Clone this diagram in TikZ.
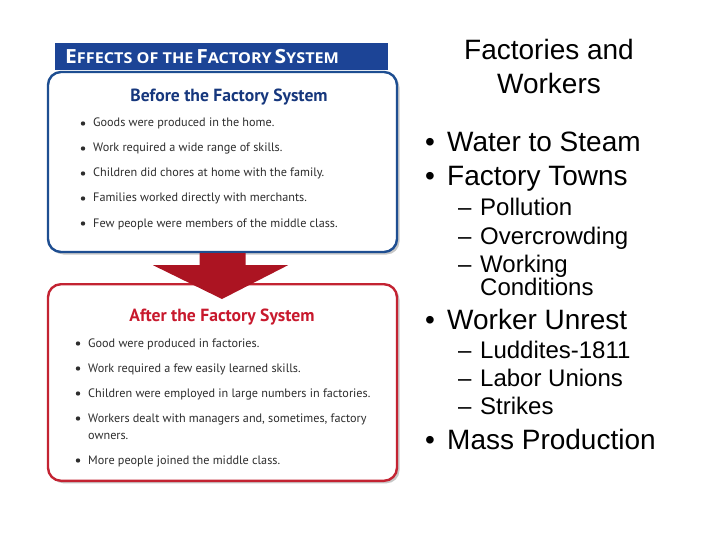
\documentclass[tikz,border=0pt]{standalone}
\usepackage{fontspec}
\usepackage{graphicx}
\setmainfont{Liberation Sans}
\newfontfamily\boxfont{PT Sans}
\newfontfamily\headfont{Open Sans}
\usetikzlibrary{calc,shadows}

\definecolor{hdrblue}{RGB}{28,68,150}
\definecolor{boxblue}{RGB}{30,78,145}
\definecolor{txtblue}{RGB}{22,55,125}
\definecolor{boxred}{RGB}{195,35,50}
\definecolor{arrred}{RGB}{172,20,34}
\definecolor{txtred}{RGB}{200,25,45}
\definecolor{itemgray}{RGB}{45,45,45}

\newcommand\capsc[2]{{\fontsize{19.5}{20}\selectfont #1}{\fontsize{15}{16}\selectfont #2}}

\begin{document}
\begin{tikzpicture}[x=1pt,y=-1pt,
    panel/.style={draw, line width=2.4pt, rounded corners=13pt, fill=white,
        minimum width=349pt, inner sep=0pt,
        drop shadow={shadow xshift=2.5pt, shadow yshift=-2.5pt, fill=black, opacity=.22}},
    headbar/.style={fill=hdrblue, anchor=west, minimum height=27pt, inner xsep=10pt,
        inner ysep=0pt, text=white, font=\headfont\bfseries},
    boxtitle/.style={font=\boxfont\bfseries\fontsize{17.6}{19}\selectfont},
    item/.style={anchor=base west, inner sep=0pt, text=itemgray,
        font=\boxfont\fontsize{12.2}{14}\selectfont},
    lvone/.style={anchor=base west, inner sep=0pt, font=\fontsize{28}{32}\selectfont},
    lvtwo/.style={anchor=base west, inner sep=0pt, font=\fontsize{24}{28}\selectfont}]

    \useasboundingbox (0,0) rectangle (720,540);

    \node[panel, draw=boxblue, minimum height=180pt] (before) at (222.5,162) {};
    \node[headbar] (head) at (55,56.5)
        {\hbox to 313pt{\scalebox{1.08}[1]{\capsc{E}{FFECTS OF THE} \capsc{F}{ACTORY} \capsc{S}{YSTEM}}\hfil}};
    \node[boxtitle, text=txtblue] (btitle) at (229,97) {Before the Factory System};
    \foreach \y/\t [count=\i] in {123/Goods were produced in the home.,
            148/Work required a wide range of skills.,
            173/Children did chores at home with the family.,
            198/Families worked directly with merchants.,
            223/Few people were members of the middle class.} {
        \fill[itemgray] (83,\y+0.5) circle (2.2pt);
        \node[item] (b\i) at (93,\y+4) {\t};
    }

    \node[panel, draw=boxred, minimum height=196.6pt] (after) at (222.5,382.5) {};
    \node[boxtitle, text=txtred] (atitle) at (222,317) {After the Factory System};
    \foreach \y/\t [count=\i] in {343/Good were produced in factories.,
            368/Work required a few easily learned skills.,
            393/Children were employed in large numbers in factories.,
            418/{Workers dealt with managers and, sometimes, factory},
            460/More people joined the middle class.} {
        \fill[itemgray] (78,\y+0.5) circle (2.2pt);
        \node[item] (a\i) at (88,\y+4) {\t};
    }
    \node[item] (a4b) at (88,439) {owners.};

    \fill[arrred] ($(before.south)+(-23,0)$) -- ($(before.south)+(23,0)$)
        -- ($(before.south)+(23,12)$) -- ($(before.south)+(65.5,12)$)
        -- ($(after.north)+(-0.5,16)$) -- ($(before.south)+(-69.5,12)$)
        -- ($(before.south)+(-23,12)$) -- cycle;

    \node[lvone, anchor=base] (t1) at (549,60) {Factories and};
    \node[lvone, anchor=base] (t2) at (549,94) {Workers};

    \node[lvone] (p1) at (425,152) {\makebox[22pt][l]{\textbullet}Water to Steam};
    \node[lvone] (p2) at (425,186) {\makebox[22pt][l]{\textbullet}Factory Towns};
    \node[lvtwo] (p21) at (458,215.5) {\makebox[22pt][l]{--}Pollution};
    \node[lvtwo] (p22) at (458,244.5) {\makebox[22pt][l]{--}Overcrowding};
    \node[lvtwo] (p23) at (458,272.5) {\makebox[22pt][l]{--}Working};
    \node[lvtwo] (p24) at (480,295.5) {Conditions};
    \node[lvone] (p3) at (425,329) {\makebox[22pt][l]{\textbullet}Worker Unrest};
    \node[lvtwo] (p31) at (458,358.5) {\makebox[22pt][l]{--}Luddites-1811};
    \node[lvtwo] (p32) at (458,386.5) {\makebox[22pt][l]{--}Labor Unions};
    \node[lvtwo] (p33) at (458,414.5) {\makebox[22pt][l]{--}Strikes};
    \node[lvone] (p4) at (425,449) {\makebox[22pt][l]{\textbullet}Mass Production};
\end{tikzpicture}
\end{document}
